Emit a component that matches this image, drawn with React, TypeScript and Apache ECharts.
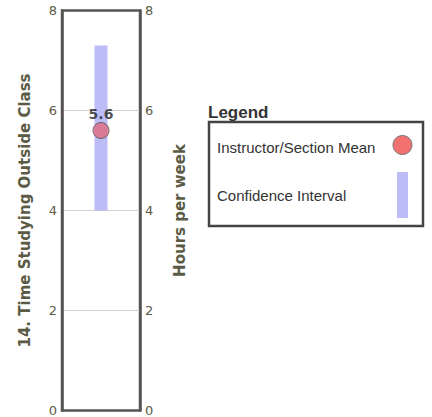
import React, { useEffect, useRef } from "react";
import * as echarts from "echarts";

const categories = ["Q14"];
const meanValues = [5.6];
const ciLow = [4.0];
const ciHigh = [7.3];
const yTicks = [0, 2, 4, 6, 8];
const leftTitle = "14. Time Studying Outside Class";
const rightTitle = "Hours per week";
const legendTitle = "Legend";
const legendItems = ["Instructor/Section Mean", "Confidence Interval"];

export default function App() {
  const ref = useRef<HTMLDivElement>(null);
  useEffect(() => {
    const chart = echarts.init(ref.current!, undefined, { renderer: "svg" });
    const axisText = { color: "#5b5b45", fontFamily: "DejaVu Sans", fontSize: 13 };
    const yBase = {
      type: "value" as const,
      min: yTicks[0],
      max: yTicks[yTicks.length - 1],
      interval: 2,
      nameLocation: "middle" as const,
      nameTextStyle: { color: "#5b5b45", fontFamily: "DejaVu Sans", fontSize: 15, fontWeight: "bold" as const },
      axisLine: { show: true, lineStyle: { color: "#555", width: 2.5 } },
      axisTick: { show: false },
      axisLabel: { ...axisText, margin: 5 },
    };
    chart.setOption({
      animation: false,
      grid: { left: 62, right: 292, top: 10.5, bottom: 6, show: true, borderColor: "#555", borderWidth: 2.5 },
      xAxis: {
        type: "category",
        data: categories,
        axisLine: { show: false },
        axisTick: { show: false },
        axisLabel: { show: false },
        splitLine: { show: false },
      },
      yAxis: [
        {
          ...yBase,
          position: "left",
          name: leftTitle,
          nameGap: 30,
          splitLine: { show: true, showMinLine: false, showMaxLine: false, lineStyle: { color: "#d0d0d0", width: 1 } },
        },
        { ...yBase, position: "right", name: rightTitle, nameGap: 32, nameRotate: 90, splitLine: { show: false } },
      ],
      series: [
        {
          type: "bar",
          stack: "ci",
          data: ciLow,
          barWidth: 13,
          itemStyle: { color: "transparent" },
          silent: true,
        },
        {
          type: "bar",
          stack: "ci",
          data: ciHigh.map((h, i) => h - ciLow[i]),
          barWidth: 13,
          itemStyle: { color: "#bcbcf7" },
        },
        {
          type: "scatter",
          data: meanValues,
          symbol: "circle",
          symbolSize: 16,
          itemStyle: { color: "#e06a80", borderColor: "#555", borderWidth: 1 },
          label: {
            show: true,
            position: "top",
            distance: 1,
            formatter: (p: any) => p.value.toFixed(1),
            color: "#222",
            fontFamily: "DejaVu Sans",
            fontWeight: "bold",
            fontSize: 14,
          },
          z: 5,
        },
      ],
      graphic: [
        { type: "text", x: 208, y: 112, style: { text: legendTitle, font: "bold 17px 'Liberation Sans'", fill: "#333", verticalAlign: "middle" } },
        { type: "rect", shape: { x: 209, y: 122, width: 214, height: 104 }, style: { fill: "#fff", stroke: "#444", lineWidth: 2.5 } },
        { type: "text", x: 217, y: 147, style: { text: legendItems[0], font: "15px 'Liberation Sans'", fill: "#333", verticalAlign: "middle" } },
        { type: "circle", shape: { cx: 402.5, cy: 145, r: 9.5 }, style: { fill: "#f27272", stroke: "#777", lineWidth: 1 } },
        { type: "text", x: 217, y: 195, style: { text: legendItems[1], font: "15px 'Liberation Sans'", fill: "#333", verticalAlign: "middle" } },
        { type: "rect", shape: { x: 397, y: 172, width: 11, height: 46 }, style: { fill: "#bcbcf7" } },
      ],
    });
    return () => chart.dispose();
  }, []);
  return <div ref={ref} style={{ width: 432, height: 417, position: "absolute", left: 0, top: 0 }} />;
}
